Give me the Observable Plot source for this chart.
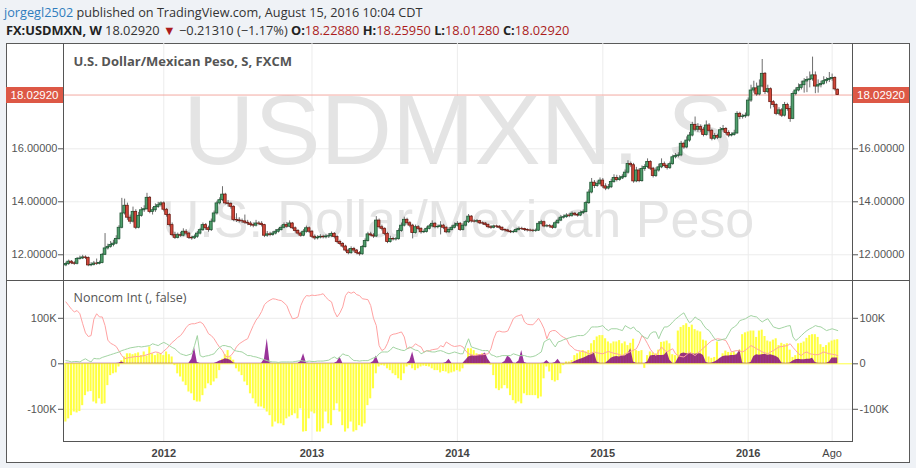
<!DOCTYPE html>
<html>
<head>
<meta charset="utf-8">
<script src="https://cdn.jsdelivr.net/npm/d3@7"></script>
<script src="https://cdn.jsdelivr.net/npm/@observablehq/plot@0.6"></script>
<style>
html,body{margin:0;padding:0}
body{width:916px;height:468px;overflow:hidden;position:relative;background:#eff2f6;font-family:"Open Sans",sans-serif;color:#333}
.hdr{position:absolute;white-space:nowrap;line-height:16px}
#h1{top:4px;left:4px;font-size:12.7px}
#h2{top:22px;left:6px;font-size:12.8px}
.user{color:#2f7dbd}
.red{color:#ab1c1c}
b{font-weight:700;color:#222}
#box{position:absolute;left:6px;top:43px;width:904px;height:420px;box-sizing:border-box;border:1px solid #5a5a5a;background:#fff}
.pane{position:absolute;left:6px}
.ln{position:absolute;background:#555}
.plabel{position:absolute;height:16px;background:#dd5846;color:#fff;font:11.5px "Liberation Sans",Arial,sans-serif;line-height:16px;text-align:center}
</style>
</head>
<body>
<div id="h1" class="hdr"></div>
<div id="h2" class="hdr"></div>
<div id="box"></div>
<div id="main" class="pane" style="top:43px"></div>
<div id="lower" class="pane" style="top:281px"></div>
<script>
// ---------- header info ----------
const author = "jorgegl2502";
const published = "August 15, 2016 10:04 CDT";
const symbol = "FX:USDMXN, W";
const lastBar = {open: 18.2288, high: 18.2595, low: 18.0128, close: 18.0292, change: -0.2131, pct: -1.17};

// ---------- weekly candles (first week starts 2011-05-01) ----------
const firstWeek = "2011-05-01";
const firstOpen = 11.60;
const closes = [
11.65,11.74,11.68,11.66,11.84,11.86,11.90,11.88,11.60,11.62,
11.67,11.66,11.69,12.00,12.24,12.30,12.37,12.42,12.60,13.02,
13.56,13.85,13.40,13.25,13.62,13.02,13.47,13.68,13.72,14.15,
13.62,13.68,13.80,13.87,13.94,13.70,13.50,13.12,12.74,12.64,
12.74,12.72,12.87,12.80,12.64,12.62,12.68,12.80,12.93,13.12,
13.00,12.93,13.25,13.56,13.94,14.06,14.27,13.94,13.92,13.81,
13.31,13.30,13.27,13.26,13.21,13.18,13.12,13.10,13.18,13.17,
13.12,12.72,12.77,12.75,12.80,12.87,12.93,13.02,13.12,13.06,
13.18,13.00,12.90,12.80,12.72,12.87,13.00,12.87,12.68,12.62,
12.65,12.68,12.66,12.69,12.70,12.79,12.67,12.48,12.41,12.31,
12.16,12.06,12.22,12.16,12.06,12.02,12.29,12.52,12.77,12.73,
12.69,13.29,13.04,12.98,12.79,12.48,12.60,12.58,12.59,12.90,
13.10,13.32,13.19,13.10,12.82,13.04,12.98,12.85,12.86,12.98,
13.07,13.17,13.04,13.05,13.10,13.02,12.85,12.94,13.02,13.10,
13.17,12.94,13.10,13.23,13.44,13.26,13.25,13.27,13.19,13.18,
13.13,13.04,13.02,13.07,13.06,13.02,12.94,12.92,12.88,12.85,
12.86,12.94,12.98,12.97,12.94,12.92,12.91,12.90,12.91,13.17,
13.23,13.07,13.08,13.07,13.02,13.19,13.29,13.40,13.42,13.48,
13.47,13.55,13.51,13.48,13.57,13.61,13.95,14.35,14.72,14.60,
14.68,14.80,14.58,14.50,14.55,14.75,14.90,14.82,14.88,14.93,
15.10,15.43,15.38,14.77,15.18,14.78,15.24,15.31,15.50,15.25,
14.97,15.18,15.30,15.42,15.35,15.28,15.42,15.68,15.73,15.75,
16.19,16.05,16.31,16.50,16.90,16.72,16.82,16.72,16.52,16.88,
16.68,16.38,16.48,16.42,16.70,16.75,16.60,16.50,16.52,16.58,
17.32,17.20,17.22,17.25,17.82,18.20,18.28,18.05,18.35,18.83,
18.14,18.25,17.76,17.65,17.32,17.45,17.25,17.65,17.50,17.13,
18.07,18.20,18.30,18.40,18.54,18.60,18.62,18.77,18.35,18.40,
18.45,18.55,18.60,18.64,18.67,18.2423,18.0292];
const highs = [
11.72,11.80,11.78,11.74,11.90,11.95,11.98,11.96,11.92,11.70,
11.75,11.84,11.76,12.05,12.80,12.40,12.50,12.55,12.72,13.10,
14.13,14.10,13.95,13.50,13.80,13.70,13.60,13.78,13.85,14.32,
14.20,13.78,13.92,13.98,14.00,14.00,13.75,13.55,13.20,12.85,
12.82,12.85,12.98,12.95,12.85,12.70,12.75,12.88,13.00,13.20,
13.18,13.08,13.35,13.65,14.02,14.15,14.57,14.32,14.05,13.98,
13.85,13.55,13.40,13.35,13.50,13.30,13.25,13.20,13.30,13.25,
13.25,13.15,12.88,12.85,12.88,12.95,13.00,13.10,13.20,13.22,
13.28,13.22,13.05,12.95,12.85,12.95,13.08,13.05,12.92,12.75,
12.72,12.76,12.74,12.76,12.80,12.86,12.84,12.72,12.55,12.46,
12.36,12.22,12.30,12.28,12.20,12.12,12.35,12.60,12.85,12.85,
12.80,13.44,13.35,13.12,13.02,12.85,12.70,12.66,12.65,12.98,
13.20,13.42,13.38,13.25,13.15,13.12,13.10,13.02,12.94,13.05,
13.14,13.28,13.22,13.12,13.25,13.15,13.06,13.02,13.10,13.20,
13.25,13.22,13.18,13.30,13.52,13.48,13.32,13.33,13.30,13.24,
13.22,13.16,13.10,13.12,13.12,13.10,13.05,12.98,12.96,12.92,
12.92,13.00,13.05,13.04,13.00,12.98,12.97,12.96,12.97,13.25,
13.30,13.27,13.14,13.14,13.12,13.26,13.38,13.48,13.50,13.55,
13.55,13.62,13.60,13.56,13.65,13.70,14.02,14.45,14.88,14.80,
14.78,14.90,14.88,14.68,14.65,14.85,15.02,15.00,14.98,15.02,
15.20,15.55,15.50,15.45,15.30,15.25,15.35,15.40,15.62,15.55,
15.30,15.28,15.42,15.62,15.50,15.42,15.50,15.76,15.82,15.85,
16.28,16.25,16.45,16.62,17.00,17.20,16.95,16.90,16.80,17.05,
16.95,16.74,16.58,16.55,16.80,16.88,16.80,16.68,16.60,16.70,
17.40,17.38,17.30,17.35,17.92,18.40,18.55,18.48,18.60,19.37,
18.88,18.40,18.30,17.82,17.70,17.55,17.52,17.75,17.72,17.60,
18.15,18.30,18.45,18.55,18.65,18.72,18.90,19.46,18.90,18.60,
18.55,18.72,18.68,18.88,18.82,18.72,18.2595];
const lows = [
11.55,11.60,11.63,11.60,11.62,11.80,11.82,11.82,11.55,11.55,
11.58,11.60,11.62,11.66,11.97,12.18,12.25,12.30,12.38,12.55,
12.98,13.50,13.30,13.15,13.20,12.95,12.98,13.42,13.60,13.68,
13.55,13.50,13.60,13.75,13.80,13.62,13.42,13.05,12.68,12.58,
12.60,12.66,12.68,12.72,12.58,12.55,12.58,12.62,12.75,12.88,
12.92,12.85,12.88,13.20,13.50,13.88,14.00,13.88,13.80,13.72,
13.25,13.22,13.20,13.18,13.15,13.10,13.05,13.02,13.05,13.10,
13.05,12.65,12.66,12.68,12.70,12.75,12.82,12.90,12.98,13.00,
13.02,12.95,12.82,12.74,12.66,12.68,12.82,12.80,12.62,12.55,
12.56,12.60,12.60,12.60,12.62,12.65,12.60,12.42,12.35,12.25,
12.10,12.00,12.02,12.08,12.00,11.95,11.98,12.25,12.48,12.68,
12.62,12.65,12.98,12.90,12.72,12.42,12.44,12.52,12.52,12.55,
12.85,13.05,13.12,13.02,12.60,12.78,12.92,12.78,12.80,12.82,
12.94,13.02,12.98,12.98,12.75,12.95,12.80,12.80,12.90,12.98,
13.05,12.88,12.90,13.05,13.18,13.20,13.20,13.20,13.14,13.12,
13.08,12.98,12.96,12.98,13.00,12.96,12.88,12.86,12.84,12.80,
12.80,12.82,12.90,12.92,12.88,12.86,12.86,12.84,12.85,12.88,
13.12,13.02,13.02,13.00,12.96,12.98,13.15,13.25,13.35,13.38,
13.40,13.42,13.45,13.42,13.44,13.52,13.58,13.90,14.30,14.50,
14.55,14.62,14.50,14.42,14.45,14.50,14.70,14.75,14.78,14.84,
14.90,15.05,15.30,14.70,14.72,14.72,14.74,15.15,15.25,15.18,
14.90,14.92,15.12,15.25,15.28,15.20,15.22,15.38,15.62,15.66,
15.70,15.98,16.00,16.25,16.45,16.65,16.62,16.62,16.45,16.48,
16.60,16.30,16.32,16.35,16.38,16.62,16.52,16.42,16.45,16.48,
16.55,17.10,17.12,17.15,17.20,17.75,18.10,17.98,18.00,18.30,
18.05,18.08,17.50,17.55,17.25,17.25,17.18,17.20,17.42,17.00,
17.10,18.00,18.15,18.22,18.10,18.12,18.30,18.55,18.08,18.10,
18.30,18.40,18.45,18.50,18.55,18.18,18.0128];

// ---------- COT noncommercial interest (thousands of contracts) ----------
const netPos = [
-128,-121,-114,-106,-108,-105,-92,-70,-62,-61,
-84,-88,-77,-89,-88,-48,-26,-22,-20,-7,
7,15,22,22,20,22,24,18,26,17,
37,22,18,22,22,18,26,20,15,-4,
-22,-29,-40,-48,-62,-66,-81,-84,-84,-70,
-55,-44,-48,-40,-33,-15,10,20,29,15,
8,-11,-18,-26,-40,-48,-66,-77,-88,-95,
-95,-99,-106,-114,-139,-128,-132,-132,-136,-121,
-117,-114,-110,-121,-99,-150,-149,-121,-106,-110,
-150,-150,-143,-106,-132,-136,-103,-88,-106,-136,
-150,-143,-128,-150,-147,-136,-139,-132,-92,-77,
-55,-22,-7,-4,-5,-11,-15,-22,-26,-33,
-37,-22,-7,-4,-11,-15,-11,-7,-5,-6,
-7,-11,-15,-15,-20,-17,-18,-22,-20,-18,
-15,-18,-11,5,33,33,29,22,20,22,
18,7,-3,-26,-55,-59,-55,-48,-55,-70,
-81,-88,-84,-88,-66,-70,-70,-70,-70,-77,
-73,-33,-7,-18,-37,-40,-37,-22,-4,4,
4,7,18,22,26,29,26,29,44,51,
59,62,62,55,48,44,48,48,51,44,
48,40,45,54,29,27,29,-10,18,26,
24,22,30,47,48,50,44,20,18,72,
80,84,88,80,85,75,72,70,52,50,
15,12,14,48,12,22,28,25,24,26,
22,30,64,68,70,72,72,58,72,74,
60,50,48,52,55,40,45,42,44,30,
14,18,44,45,48,56,62,64,64,58,
42,36,40,46,50,52,53];
const shortPos = [
136,128,120,114,117,110,88,68,60,62,
98,110,103,103,84,52,45,42,38,28,
18,11,13,14,15,16,16,17,18,20,
22,24,26,25,22,28,33,40,47,52,
58,62,70,80,86,88,88,90,92,88,
78,66,62,55,45,36,29,17,15,18,
26,37,44,48,52,55,70,84,96,104,
115,130,136,140,143,142,140,139,134,128,
112,99,100,103,128,142,150,149,151,150,
151,152,154,146,140,136,115,103,112,125,
150,158,155,158,152,150,143,142,141,128,
100,84,40,29,33,45,62,65,66,68,
70,59,33,35,37,44,40,37,26,28,
29,31,32,33,40,37,48,44,40,38,
39,40,37,28,22,20,18,19,20,20,
21,22,33,55,70,72,70,70,72,85,
99,104,106,108,92,87,86,86,92,100,
90,77,55,70,73,73,68,62,58,55,
42,37,31,29,28,27,25,22,24,26,
24,23,22,25,27,25,23,22,20,18,
22,24,27,30,33,45,62,55,44,32,
24,18,28,37,30,26,30,33,22,18,
16,15,20,26,22,18,24,29,35,40,
46,51,53,55,54,53,51,40,26,28,
29,28,26,30,35,40,37,33,30,26,
24,22,26,29,33,37,38,39,40,44,
36,29,22,18,24,26,22,21,20,20,
23,26,24,22,21,20,18];
const longPos = [
7,6,4,5,5,4,8,11,7,4,
12,11,11,14,16,18,20,22,24,26,
29,31,33,35,36,37,38,37,38,39,
40,44,42,40,44,47,44,40,36,33,
27,22,20,18,20,22,40,62,18,15,
17,18,20,22,30,36,40,40,38,37,
30,28,27,26,22,18,18,16,15,13,
11,9,7,5,4,4,3,4,4,4,
4,4,5,6,7,6,5,6,5,5,
6,6,6,7,8,12,15,11,15,22,
19,18,12,7,7,6,7,7,7,10,
13,15,22,26,26,26,30,37,34,32,
30,29,33,37,33,30,29,22,25,29,
27,26,26,28,29,27,24,22,24,26,
24,22,22,40,55,37,35,33,31,29,
29,29,20,18,15,16,18,18,18,18,
22,20,18,18,18,16,15,16,18,22,
26,48,52,55,45,37,48,50,53,55,
57,59,60,62,62,62,66,73,81,81,
81,82,84,77,73,77,77,77,75,73,
84,80,77,81,73,70,62,58,55,66,
70,70,55,70,81,81,85,92,98,103,
108,112,100,90,95,103,98,95,85,77,
73,64,55,51,52,54,55,66,77,81,
86,95,97,99,103,106,104,103,97,92,
96,99,90,81,79,77,79,81,83,84,
59,51,56,62,68,73,77,80,84,82,
81,77,73,75,77,75,73];
const spreadPos = [
1,1,1,1,1,1,1,1,1,1,
1,1,1,1,1,1,1,1,1,2,
4,1,1,1,1,1,1,1,1,1,
1,1,1,1,1,1,1,1,1,1,
1,1,1,1,1,10,36,3,1,1,
1,1,1,1,3,6,8,11,10,7,
2,1,1,1,1,1,1,1,1,1,
1,10,55,2,1,1,1,1,1,1,
1,1,1,1,5,22,2,1,1,1,
1,1,1,1,1,1,1,4,15,1,
1,1,1,1,1,1,1,1,1,1,
5,17,1,1,1,1,1,1,1,1,
1,1,1,6,26,1,1,1,1,1,
1,1,1,1,1,1,3,10,1,1,
1,1,1,8,15,17,18,18,19,20,
24,10,1,1,1,1,1,5,17,12,
2,1,6,29,3,1,1,1,1,1,
1,2,7,1,1,3,10,1,1,1,
1,2,5,8,10,12,15,18,20,24,
4,1,1,1,6,12,15,16,15,18,
17,22,33,4,1,1,1,1,4,17,
18,18,18,18,19,26,8,1,1,12,
22,24,22,22,22,21,22,22,18,3,
1,2,4,7,12,16,17,17,18,18,
20,31,2,1,1,3,16,20,19,20,
21,19,20,18,16,12,2,1,1,2,
6,9,10,9,9,10,10,12,3,1,
1,1,1,4,13,13,13];

// ---------- ticks ----------
const priceTicks = [12, 14, 16];
const cotTicks = [-100, 0, 100];
const timeTickDates = ["2012-01-01","2013-01-06","2014-01-05","2015-01-04","2016-01-03","2016-07-31"];
const timeTickLabels = ["2012","2013","2014","2015","2016","Ago"];
const timeTickBold = [true,true,true,true,true,false];
const xDomain = ["2011-04-25","2016-09-20"];
const priceDomain = [10.992, 19.974];
const cotDomain = [-170.8, 180.9];

// ---------- build tables ----------
const DAY = 864e5;
const t0 = new Date(firstWeek + "T00:00:00Z");
const n = closes.length;
const rows = closes.map((c, i) => ({
  date: new Date(+t0 + i * 7 * DAY),
  o: i === 0 ? firstOpen : (i === n - 1 ? lastBar.open : closes[i - 1]),
  h: highs[i], l: lows[i], c,
  net: netPos[i], short: shortPos[i], long: longPos[i], spread: spreadPos[i]
}));
const ticks = timeTickDates.map((d, i) => ({date: new Date(d + "T00:00:00Z"), label: timeTickLabels[i], bold: timeTickBold[i]}));
const xScale = {type: "utc", domain: xDomain.map(d => new Date(d + "T00:00:00Z")), axis: null};
const font = "Liberation Sans, Arial, sans-serif";
const axisColor = "#555";
const gridColor = "#ececec";
const fmt5 = d3.format(".5f");

// ---------- header ----------
const minus = s => s.replace("-", "\u2212");
document.getElementById("h1").innerHTML =
  `<span class="user">${author}</span> published on TradingView.com, ${published}`;
document.getElementById("h2").innerHTML =
  `<b>${symbol}</b> ${fmt5(lastBar.close)} <span class="red">\u25BC</span> ${minus(fmt5(lastBar.change))} (${minus(lastBar.pct.toFixed(2))}%) ` +
  `<b>O:</b><span class="red">${fmt5(lastBar.open)}</span> <b>H:</b><span class="red">${fmt5(lastBar.high)}</span> ` +
  `<b>L:</b><span class="red">${fmt5(lastBar.low)}</span> <b>C:</b><span class="red">${fmt5(lastBar.close)}</span>`;

// ---------- main price pane ----------
const main = Plot.plot({
  width: 904, height: 238,
  marginLeft: 57, marginRight: 58, marginTop: 0, marginBottom: 0,
  style: {background: "transparent", overflow: "visible", fontFamily: font, fontSize: "11px"},
  x: xScale,
  y: {domain: priceDomain},
  marks: [
    Plot.ruleX(ticks, {x: "date", stroke: gridColor}),
    Plot.ruleY(priceTicks, {stroke: gridColor}),
    Plot.text(["USDMXN, S"], {text: d => d, frameAnchor: "top", dy: 120, lineAnchor: "bottom", fontSize: 99, fill: "#e4e4e4", fontFamily: font}),
    Plot.text(["U.S. Dollar/Mexican Peso"], {text: d => d, frameAnchor: "top", dy: 193, lineAnchor: "bottom", fontSize: 52, fill: "#e4e4e4", fontFamily: font}),
    Plot.text(["U.S. Dollar/Mexican Peso, S, FXCM"], {text: d => d, frameAnchor: "top-left", dx: 10, dy: 18, textAnchor: "start", lineAnchor: "middle", fontSize: 13, fontWeight: "bold", fill: "#555", fontFamily: "Open Sans, sans-serif"}),
    Plot.ruleY([lastBar.close], {stroke: "#f3aaa2"}),
    Plot.ruleX(rows, {x: "date", y1: "l", y2: "h", stroke: "#6e6e6e", strokeWidth: 1}),
    Plot.rect(rows, {
      x1: d => new Date(+d.date - 3.4 * DAY), x2: d => new Date(+d.date + 3.4 * DAY),
      y1: "o", y2: "c",
      fill: d => d.c >= d.o ? "#4f9f6c" : "#d2473a",
      stroke: d => d.c >= d.o ? "#1f5634" : "#6e1c14",
      strokeWidth: 0.8
    }),
    Plot.axisY({ticks: priceTicks, anchor: "left", tickSize: 5, tickPadding: 1, tickFormat: fmt5, color: axisColor, fontSize: 11, label: null}),
    Plot.axisY({ticks: priceTicks, anchor: "right", tickSize: 5, tickPadding: 1, tickFormat: fmt5, color: axisColor, fontSize: 11, label: null})
  ]
});
document.getElementById("main").append(main);

// ---------- lower COT pane ----------
const kfmt = d => d === 0 ? "0" : d + "K";
const lower = Plot.plot({
  width: 904, height: 181,
  marginLeft: 57, marginRight: 58, marginTop: 0, marginBottom: 21,
  style: {background: "transparent", overflow: "visible", fontFamily: font, fontSize: "11px"},
  x: xScale,
  y: {domain: cotDomain},
  marks: [
    Plot.ruleX(ticks, {x: "date", stroke: gridColor}),
    Plot.ruleY([-100, 100], {stroke: gridColor}),
    Plot.ruleY([0], {stroke: "#ffff40"}),
    Plot.rect(rows, {
      x1: d => new Date(+d.date - 2.6 * DAY), x2: d => new Date(+d.date + 2.6 * DAY),
      y1: 0, y2: "net", fill: "#ffff40"
    }),
    Plot.areaY(rows, {x: "date", y: "spread", fill: "#800080", fillOpacity: 0.8}),
    Plot.line(rows, {x: "date", y: "short", stroke: "#ffa2a2", strokeWidth: 1}),
    Plot.line(rows, {x: "date", y: "long", stroke: "#a2d4a2", strokeWidth: 1}),
    Plot.text(["Noncom Int (, false)"], {text: d => d, frameAnchor: "top-left", dx: 10, dy: 16, textAnchor: "start", lineAnchor: "middle", fontSize: 12.5, fill: "#555", fontFamily: "Open Sans, sans-serif"}),
    Plot.axisY({ticks: cotTicks, anchor: "left", tickSize: 5, tickPadding: 2, tickFormat: kfmt, color: axisColor, fontSize: 11, label: null}),
    Plot.axisY({ticks: cotTicks, anchor: "right", tickSize: 5, tickPadding: 2, tickFormat: kfmt, color: axisColor, fontSize: 11, label: null}),
    Plot.text(ticks.filter(d => d.bold), {x: "date", text: "label", frameAnchor: "bottom", dy: 12, lineAnchor: "middle", fontSize: 11, fontWeight: "bold", fill: "#444"}),
    Plot.text(ticks.filter(d => !d.bold), {x: "date", text: "label", frameAnchor: "bottom", dy: 12, lineAnchor: "middle", fontSize: 11, fill: "#444"})
  ]
});
document.getElementById("lower").append(lower);

// ---------- pane borders ----------
function line(left, top, w, h) {
  const d = document.createElement("div");
  d.className = "ln";
  Object.assign(d.style, {left: left + "px", top: top + "px", width: w + "px", height: h + "px"});
  document.body.append(d);
}
line(63, 43, 1, 399);
line(852, 43, 1, 399);
line(6, 280, 904, 1);
line(63, 441, 790, 1);

// ---------- last price labels ----------
const yLast = main.scale("y").apply(lastBar.close) + 43;
for (const [left, w] of [[6, 57], [853, 56]]) {
  const d = document.createElement("div");
  d.className = "plabel";
  d.textContent = fmt5(lastBar.close);
  Object.assign(d.style, {left: left + "px", top: Math.round(yLast - 8) + "px", width: w + "px"});
  document.body.append(d);
}
</script>
</body>
</html>
